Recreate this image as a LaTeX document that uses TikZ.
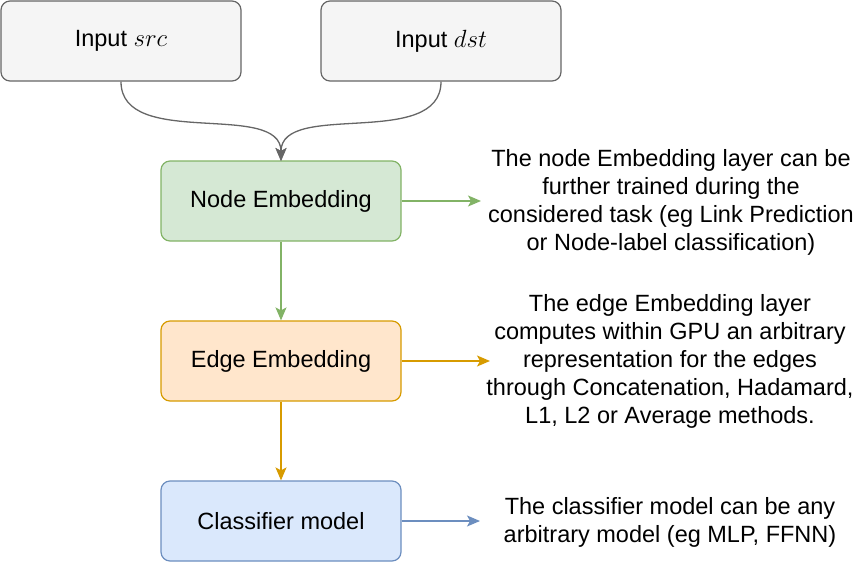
\documentclass[tikz,border=0pt]{standalone}
\usepackage{fontspec}
\setmainfont{Liberation Sans}
\usetikzlibrary{arrows.meta}
\definecolor{grayfill}{HTML}{F5F5F5}
\definecolor{graydraw}{HTML}{666666}
\definecolor{greenfill}{HTML}{D5E8D4}
\definecolor{greendraw}{HTML}{82B366}
\definecolor{orangefill}{HTML}{FFE6CC}
\definecolor{orangedraw}{HTML}{D79B00}
\definecolor{bluefill}{HTML}{DAE8FC}
\definecolor{bluedraw}{HTML}{6C8EBF}
\begin{document}
\begin{tikzpicture}[x=1pt,y=-1pt,
  box/.style={draw, line width=1.2pt, rounded corners=9pt, minimum width=240pt, minimum height=80pt, inner sep=0pt, font=\fontsize{23.5}{28}\selectfont},
  note/.style={align=center, inner sep=0pt, font=\fontsize{23.5}{28}\selectfont},
  conn/.style={line width=1.3pt, -{Stealth[length=13pt,width=11pt,inset=3pt]}}
]
\useasboundingbox (0,0) rectangle (862,562);
\node[box, fill=grayfill, draw=graydraw] (src) at (121,41) {Input $src$};
\node[box, fill=grayfill, draw=graydraw] (dst) at (441,41) {Input $dst$};
\node[box, fill=greenfill, draw=greendraw] (ne) at (281,201) {Node Embedding};
\node[box, fill=orangefill, draw=orangedraw] (ee) at (281,361) {Edge Embedding};
\node[box, fill=bluefill, draw=bluedraw] (cm) at (281,521) {Classifier model};

\node[note] (t1) at (671,202) {The node Embedding layer can be\\further trained during the\\considered task (eg Link Prediction\\or Node-label classification)};
\node[note] (t2) at (670,361) {The edge Embedding layer\\computes within GPU an arbitrary\\representation for the edges\\through Concatenation, Hadamard,\\L1, L2 or Average methods.};
\node[note] (t3) at (670,522) {The classifier model can be any\\arbitrary model (eg MLP, FFNN)};

\coordinate (j) at (281,161);
\draw[conn, draw=graydraw] (src.south) .. controls (121,150) and (281,100) .. (j);
\draw[conn, draw=graydraw] (dst.south) .. controls (441,150) and (281,100) .. (j);

\draw[conn, draw=greendraw] (ne.south) -- (ee.north);
\draw[conn, draw=orangedraw] (ee.south) -- (cm.north);

\coordinate (a1) at (481,201);
\coordinate (a2) at (490,361);
\coordinate (a3) at (480,521);
\draw[conn, draw=greendraw] (ne.east) -- (a1);
\draw[conn, draw=orangedraw] (ee.east) -- (a2);
\draw[conn, draw=bluedraw] (cm.east) -- (a3);
\end{tikzpicture}
\end{document}
